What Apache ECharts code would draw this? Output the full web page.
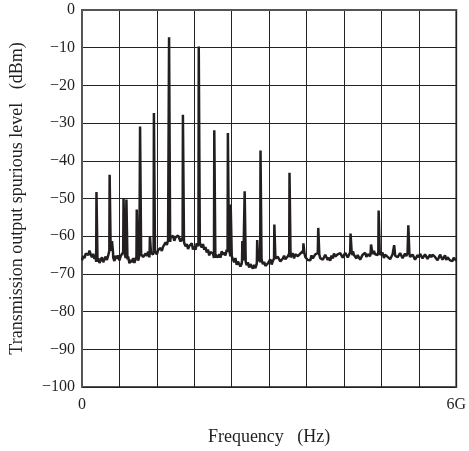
<!DOCTYPE html>
<html>
<head>
<meta charset="utf-8">
<script src="https://cdn.jsdelivr.net/npm/echarts@6/dist/echarts.min.js"></script>
<style>
html,body{margin:0;padding:0;background:#fff;}
#chart{width:469px;height:451px;}
</style>
</head>
<body>
<div id="chart"></div>
<script>
// Frequency axis in GHz (0 .. 6G), level in dBm
const floorStep = 0.02;
const floorLevel = [
-66.4,-65.2,-65.8,-64.6,-64.1,-65.0,-63.8,-64.9,-65.6,-64.7,
-66.0,-65.3,-66.8,-65.9,-67.1,-66.2,-65.6,-66.9,-66.1,-65.4,
-66.3,-65.1,-63.9,-64.8,-64.4,-65.7,-66.6,-65.2,-66.0,-65.1,
-66.4,-65.3,-65.0,-64.2,-64.6,-65.8,-66.2,-65.4,-67.2,-66.3,
-66.9,-65.8,-67.1,-66.0,-65.4,-66.5,-65.2,-64.8,-64.3,-65.5,
-65.9,-64.6,-65.2,-64.1,-65.6,-64.4,-63.9,-64.9,-64.0,-63.6,
-64.8,-63.7,-64.2,-63.1,-63.9,-62.8,-62.2,-61.6,-62.3,-61.1,
-61.5,-60.4,-60.9,-59.9,-61.2,-60.3,-60.8,-59.8,-60.6,-61.4,
-60.5,-61.3,-61.9,-62.7,-62.1,-63.4,-62.6,-63.0,-61.9,-63.5,
-62.8,-63.6,-61.9,-62.7,-61.6,-62.3,-63.0,-62.1,-63.6,-62.9,
-64.3,-63.5,-65.1,-64.2,-63.7,-64.6,-65.8,-64.9,-64.5,-65.6,
-64.8,-65.7,-64.0,-64.9,-64.3,-65.1,-63.6,-64.2,-63.5,-64.6,
-65.3,-66.1,-66.9,-65.8,-67.6,-66.7,-67.2,-68.0,-67.3,-66.4,
-65.9,-66.8,-67.7,-66.9,-68.3,-67.4,-67.8,-68.6,-67.6,-68.5,
-67.4,-66.6,-65.8,-66.9,-66.3,-67.4,-66.8,-67.9,-68.1,-67.2,
-67.0,-66.1,-67.5,-66.6,-66.8,-65.9,-66.4,-65.5,-65.8,-66.7,
-66.8,-65.9,-65.2,-66.1,-66.2,-65.3,-64.7,-65.6,-65.4,-64.5,
-65.9,-64.8,-64.4,-65.3,-65.7,-64.6,-65.1,-64.0,-64.6,-65.5,
-65.2,-66.3,-65.8,-66.4,-65.1,-65.9,-65.6,-64.8,-65.3,-64.5,
-64.9,-65.8,-65.4,-66.2,-65.6,-64.9,-65.4,-66.3,-65.7,-66.5,
-65.1,-65.9,-64.6,-65.4,-65.9,-64.8,-65.3,-64.5,-64.8,-65.7,
-65.3,-64.4,-64.7,-65.6,-65.1,-64.3,-64.1,-65.0,-64.7,-65.4,
-65.9,-65.0,-65.4,-66.2,-65.7,-64.9,-65.2,-64.4,-65.5,-64.8,
-64.5,-65.3,-64.0,-64.7,-63.9,-64.8,-64.3,-65.0,-64.2,-64.9,
-65.3,-64.4,-65.8,-64.9,-64.6,-65.5,-65.2,-66.1,-65.6,-64.8,
-64.3,-65.2,-64.7,-65.6,-65.3,-64.5,-65.0,-65.8,-65.4,-64.6,
-65.3,-64.4,-64.6,-65.5,-65.9,-64.9,-65.4,-66.2,-65.8,-65.0,
-65.6,-64.7,-65.0,-65.9,-65.6,-64.8,-65.2,-66.0,-65.5,-64.9,
-65.6,-64.9,-64.6,-65.5,-65.8,-66.4,-65.7,-64.9,-65.4,-66.2,
-65.9,-65.1,-66.3,-65.6,-65.2,-66.4,-65.9,-66.6,-65.7,-66.2,
-66.5
];
const spikeFreq = [0.238,0.449,0.487,0.672,0.718,0.884,0.937,1.095,1.159,1.402,
  1.624,1.878,2.127,2.345,2.390,2.577,2.614,2.815,2.868,3.090,
  3.333,3.556,3.794,4.312,4.350,4.640,4.762,5.011,5.238];
const spikeLevel = [-48.3,-43.7,-61.3,-50.1,-50.3,-52.9,-30.9,-60.0,-27.3,-7.2,
  -27.8,-9.7,-31.9,-32.6,-51.6,-61.3,-48.1,-61.0,-37.3,-56.9,
  -43.2,-61.9,-57.8,-59.3,-64.0,-62.2,-53.2,-62.4,-57.1];
const yTicks = [0,-10,-20,-30,-40,-50,-60,-70,-80,-90,-100];
const xTickLabels = {0:'0',6:'6G'};

// build trace
const pts = [];
floorLevel.forEach((v,i)=>{
  const f = i*floorStep;
  if (spikeFreq.some(s=>Math.abs(s-f)<0.012)) return;
  pts.push([f,v]);
});
spikeFreq.forEach((f,k)=>{
  const base = floorLevel[Math.round(f/floorStep)];
  const p = spikeLevel[k];
  pts.push([f-0.011,base],[f-0.006,p],[f+0.006,p],[f+0.011,base]);
});
pts.sort((a,b)=>a[0]-b[0]);

const font = '"Liberation Serif","DejaVu Serif",serif';
const chart = echarts.init(document.getElementById('chart'));
chart.setOption({
  animation:false,
  backgroundColor:'#fff',
  grid:{left:81,right:10,top:10,bottom:63,show:true,borderColor:'#555',borderWidth:2,backgroundColor:'transparent'},
  xAxis:{
    type:'value',min:0,max:6,interval:0.6,
    name:'Frequency   (Hz)',nameLocation:'middle',nameGap:41,
    nameTextStyle:{fontFamily:font,fontSize:18,color:'#231f20'},
    axisLine:{show:true,lineStyle:{color:'#555',width:2}},
    axisTick:{show:false},
    axisLabel:{margin:10,fontFamily:font,fontSize:16,color:'#231f20',
      formatter:v=>{for(const k in xTickLabels){if(Math.abs(v-k)<1e-6)return xTickLabels[k];}return '';}},
    splitLine:{show:true,lineStyle:{color:'#222',width:1}}
  },
  yAxis:{
    type:'value',min:-100,max:0,interval:10,
    name:'Transmission output spurious level   (dBm)',nameLocation:'middle',nameGap:56,
    nameTextStyle:{fontFamily:font,fontSize:18,color:'#231f20'},
    axisLine:{show:true,lineStyle:{color:'#555',width:2}},
    axisTick:{show:false},
    axisLabel:{margin:7,fontFamily:font,fontSize:16,color:'#231f20',
      formatter:v=>{const t=yTicks.find(x=>Math.abs(x-v)<1e-6);return t===undefined?'':(t===0?'0':'\u2212'+Math.abs(t));}},
    splitLine:{show:true,lineStyle:{color:'#222',width:1}}
  },
  series:[{
    type:'line',data:pts,showSymbol:false,symbol:'none',
    lineStyle:{color:'#231f20',width:2.5},
    z:5
  }]
});
</script>
</body>
</html>
